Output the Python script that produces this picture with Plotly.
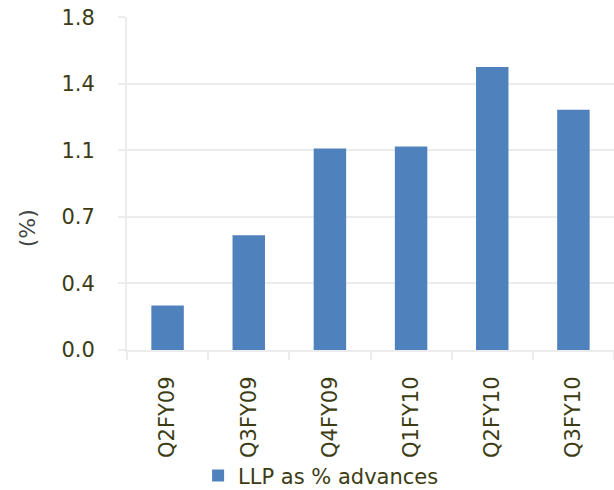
import plotly.graph_objects as go

# Loan-loss provisions as a share of advances, by quarter
quarters = ["Q2FY09", "Q3FY09", "Q4FY09", "Q1FY10", "Q2FY10", "Q3FY10"]
llp_pct = [0.24, 0.62, 1.09, 1.10, 1.53, 1.30]

y_tick_values = [0.0, 0.36, 0.72, 1.08, 1.44, 1.8]
y_tick_labels = ["0.0", "0.4", "0.7", "1.1", "1.4", "1.8"]

FONT = "DejaVu Sans"
TEXT = "#3c3c14"
GRID = "#ececec"

fig = go.Figure()
fig.add_trace(go.Bar(
    x=quarters,
    y=llp_pct,
    name="LLP as % advances",
    marker=dict(color="#4f81bd", line=dict(width=0)),
))

fig.update_layout(
    width=614,
    height=490,
    margin=dict(l=127, r=0, t=17, b=140, autoexpand=False),
    paper_bgcolor="white",
    plot_bgcolor="white",
    bargap=0.6,
    font=dict(family=FONT, size=21, color=TEXT),
    showlegend=True,
    legend=dict(
        orientation="h",
        x=0.146, xanchor="left",
        y=-0.378, yanchor="middle",
        font=dict(family=FONT, size=21, color=TEXT),
        itemwidth=30,
        bgcolor="rgba(0,0,0,0)",
    ),
    xaxis=dict(
        type="category",
        automargin=False,
        tickangle=-90,
        showgrid=False,
        showline=True,
        linecolor=GRID,
        linewidth=2,
        ticks="outside",
        tickson="boundaries",
        ticklen=8,
        tickcolor=GRID,
        tickwidth=2,
        ticklabelstandoff=16,
        tickfont=dict(family=FONT, size=21, color=TEXT),
    ),
    yaxis=dict(
        automargin=False,
        range=[0, 1.801],
        tickvals=y_tick_values,
        ticktext=y_tick_labels,
        showgrid=True,
        gridcolor=GRID,
        gridwidth=2,
        zeroline=False,
        showline=True,
        linecolor=GRID,
        linewidth=2,
        ticks="outside",
        ticklen=7,
        tickcolor=GRID,
        tickwidth=2,
        ticklabelstandoff=19,
        tickfont=dict(family=FONT, size=21, color=TEXT),
    ),
    annotations=[dict(
        text="(%)",
        xref="paper", yref="paper",
        x=-0.205, y=0.366,
        xanchor="center", yanchor="middle",
        textangle=-90,
        showarrow=False,
        font=dict(family=FONT, size=22, color="#444444"),
    )],
)

fig.write_html("out.html")
